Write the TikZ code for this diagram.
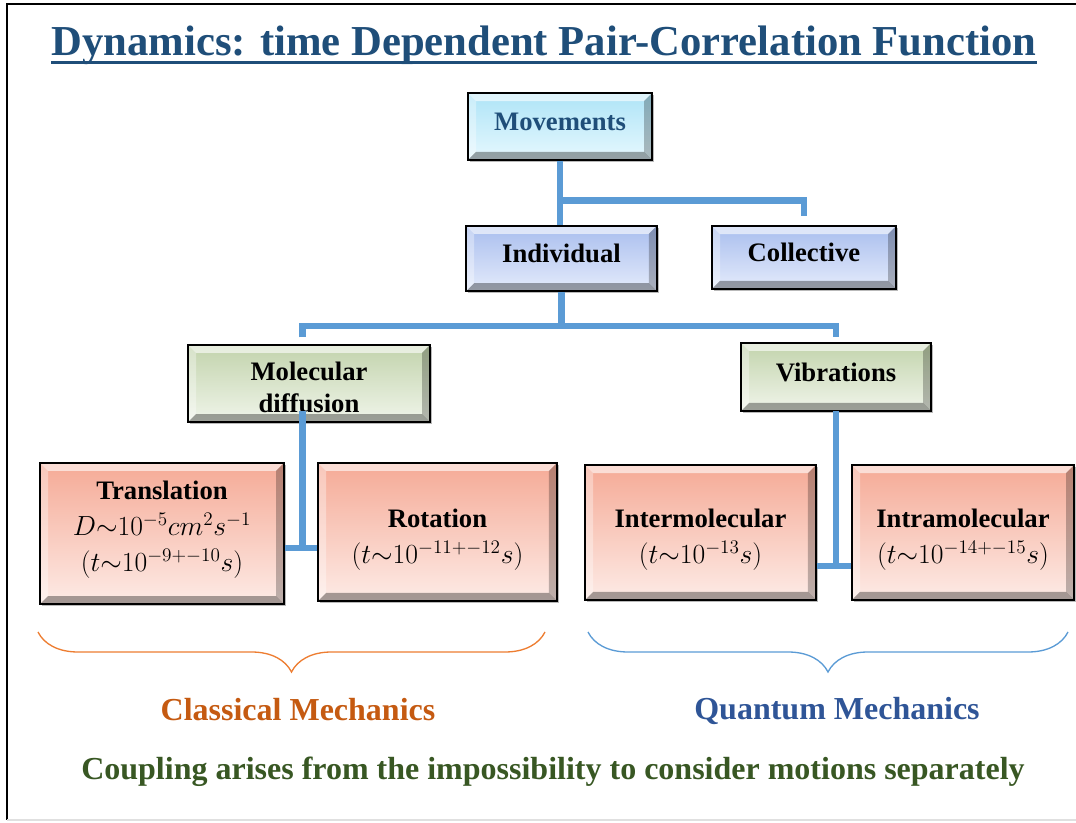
\documentclass[tikz,border=0pt]{standalone}
\usepackage{fontspec}
\setmainfont{Liberation Serif}
\usetikzlibrary{positioning,calc,shadows,decorations.pathreplacing}
\definecolor{titleblue}{HTML}{1F4E79}
\definecolor{linkblue}{HTML}{5B9BD5}
\definecolor{movtop}{HTML}{AEE4F7}
\definecolor{movbot}{HTML}{E6F8FE}
\definecolor{indtop}{HTML}{A9BEEE}
\definecolor{indbot}{HTML}{E4EBFB}
\definecolor{moltop}{HTML}{C2D3AC}
\definecolor{molbot}{HTML}{F0F5EA}
\definecolor{saltop}{HTML}{F5AA96}
\definecolor{salbot}{HTML}{FDEBE6}
\definecolor{braceorange}{HTML}{ED7D31}
\definecolor{classical}{HTML}{C55A11}
\definecolor{quantum}{HTML}{2F5597}
\definecolor{coupling}{HTML}{385723}
\def\pbb{path picture bounding box}
% struts to move box text down (high) or up (low)
\newcommand{\high}[1]{\rule{0pt}{#1}}
\newcommand{\low}[1]{\rule[-#1]{0pt}{#1}}

\begin{document}
\begin{tikzpicture}[
x=0.75pt,y=-0.75pt,
line join=miter,
bevel/.style={path picture={
 \fill[white,opacity=.6] (\pbb.north west) -- (\pbb.north east)
   -- ([shift={(-6pt,-6pt)}]\pbb.north east) -- ([shift={(6pt,-6pt)}]\pbb.north west) -- cycle;
 \fill[white,opacity=.35] (\pbb.north west) -- ([shift={(6pt,-6pt)}]\pbb.north west)
   -- ([shift={(6pt,6pt)}]\pbb.south west) -- (\pbb.south west) -- cycle;
 \fill[black,opacity=.35] (\pbb.south west) -- (\pbb.south east)
   -- ([shift={(-6pt,6pt)}]\pbb.south east) -- ([shift={(6pt,6pt)}]\pbb.south west) -- cycle;
 \fill[black,opacity=.25] (\pbb.north east) -- ([shift={(-6pt,-6pt)}]\pbb.north east)
   -- ([shift={(-6pt,6pt)}]\pbb.south east) -- (\pbb.south east) -- cycle;
}},
box/.style={rectangle,draw=black,line width=1.3pt,inner sep=2pt,align=center,
 font=\fontsize{20}{24}\selectfont\bfseries,
 drop shadow={shadow xshift=1.3pt,shadow yshift=-1.3pt,opacity=.55},bevel},
oneline/.style={text height=14pt,text depth=7.5pt},
movbox/.style={box,oneline,top color=movtop,bottom color=movbot,text=titleblue},
indbox/.style={box,oneline,top color=indtop,bottom color=indbot},
molbox/.style={box,top color=moltop,bottom color=molbot},
timebox/.style={box,top color=saltop,bottom color=salbot},
conn/.style={draw=linkblue,line width=5pt},
bracket/.style={line width=1pt,decorate,decoration={brace,mirror,amplitude=30pt}},
label/.style={font=\fontsize{24}{28}\selectfont\bfseries}
]
\useasboundingbox (0,0) rectangle (1076,823);

% frame
\draw[line width=1.5pt] (1076,4) -- (7,4) -- (7,820);
\draw[black!12,line width=1pt] (7,820) -- (1076,820);

% title
\node[inner sep=0,font=\fontsize{32}{36}\selectfont\bfseries,text=titleblue] (title) at (544,45)
 {Dynamics: time Dependent Pair-Correlation Function};
\draw[titleblue,line width=2.6pt] ([yshift=-5.6pt]title.base west) -- ([yshift=-5.6pt]title.base east);

% boxes
\node[movbox,minimum width=138pt,minimum height=50pt] (mov) at (560,126.5) {Movements};
\node[indbox,minimum width=143pt,minimum height=49pt] (ind) at (561.5,258.5) {Individual};
\node[indbox,minimum width=138pt,minimum height=47pt] (col) at (804,257.5) {Collective};
\node[molbox,minimum width=181.5pt,minimum height=58pt] (mol) at (309,383.5) {\high{20pt}Molecular\\diffusion};
\node[molbox,oneline,minimum width=142.5pt,minimum height=51pt] (vib) at (836,377) {Vibrations};
\node[timebox,minimum width=183pt,minimum height=106pt] (tra) at (162,533.5)
 {Translation\\[3pt]$D{\sim}10^{-5}cm^2s^{-1}$\\[3pt]$(t{\sim}10^{-9+-10}s)$\low{11pt}};
\node[timebox,minimum width=179pt,minimum height=103.5pt] (rot) at (437.5,532)
 {\high{25pt}Rotation\\[3pt]$(t{\sim}10^{-11+-12}s)$};
\node[timebox,minimum width=173pt,minimum height=101pt] (inter) at (700.5,532.5)
 {\high{25pt}Intermolecular\\[3pt]$(t{\sim}10^{-13}s)$};
\node[timebox,minimum width=166.5pt,minimum height=101pt] (intra) at (963,532.5)
 {\high{25pt}Intramolecular\\[3pt]$(t{\sim}10^{-14+-15}s)$};

% connectors
\draw[conn] (mov.south) -- (mov.south |- ind.north);
\draw[conn] ($(mov.south)!.62!(mov.south |- ind.north)$) -| ([yshift=7pt]col.north);
\draw[conn] (ind.south) -- ++(0,34) coordinate (isp);
\draw[conn] ([xshift=-5pt,yshift=5pt]mol.north) |- (isp) -| ([yshift=4pt]vib.north);
\coordinate (tr) at ($(tra.east)+(0,14.5)$);
\coordinate (mdn) at ([xshift=-5pt,yshift=9pt]mol.south);
\draw[conn] (tr) -- (tr -| rot.west);
\draw[conn] (mdn) -- (mdn |- tr);
\coordinate (ir) at ($(inter.east)+(0,33.5)$);
\coordinate (vdn) at ([yshift=1pt]vib.south);
\draw[conn] (ir) -- (ir -| intra.west);
\draw[conn] (vdn) -- (vdn |- ir);

% braces and labels
\coordinate (cbl) at (38,632);
\coordinate (cbr) at (545,632);
\coordinate (qbl) at (588,632);
\coordinate (qbr) at (1068,632);
\draw[bracket,braceorange] (cbl) -- (cbr);
\draw[bracket,linkblue] (qbl) -- (qbr);
\node[label,text=classical] (cm) at (298,710) {Classical Mechanics};
\node[label,text=quantum] (qm) at (837,711) {Quantum Mechanics};
\node[label,text=coupling] (cpl) at (553,772)
 {Coupling arises from the impossibility to consider motions separately};
\end{tikzpicture}
\end{document}
